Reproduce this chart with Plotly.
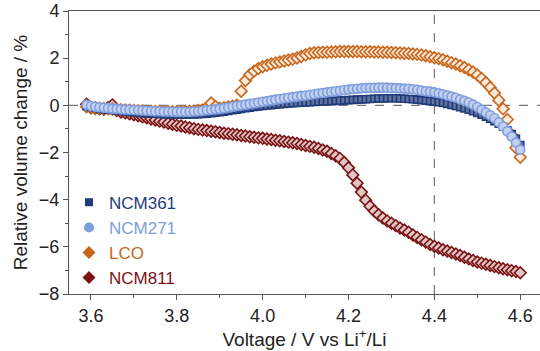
import plotly.graph_objects as go

voltage = [3.59, 3.60, 3.61, 3.62, 3.63, 3.64, 3.65, 3.66, 3.67, 3.68, 3.69,
           3.70, 3.71, 3.72, 3.73, 3.74, 3.75, 3.76, 3.77, 3.78, 3.79,
           3.80, 3.81, 3.82, 3.83, 3.84, 3.85, 3.86, 3.87, 3.88, 3.89,
           3.90, 3.91, 3.92, 3.93, 3.94, 3.95, 3.96, 3.97, 3.98, 3.99,
           4.00, 4.01, 4.02, 4.03, 4.04, 4.05, 4.06, 4.07, 4.08, 4.09,
           4.10, 4.11, 4.12, 4.13, 4.14, 4.15, 4.16, 4.17, 4.18, 4.19,
           4.20, 4.21, 4.22, 4.23, 4.24, 4.25, 4.26, 4.27, 4.28, 4.29,
           4.30, 4.31, 4.32, 4.33, 4.34, 4.35, 4.36, 4.37, 4.38, 4.39,
           4.40, 4.41, 4.42, 4.43, 4.44, 4.45, 4.46, 4.47, 4.48, 4.49,
           4.50, 4.51, 4.52, 4.53, 4.54, 4.55, 4.56, 4.57, 4.58, 4.59,
           4.60]

ncm361 = [-0.04, -0.07, -0.10, -0.13, -0.16, -0.18, -0.20, -0.22, -0.24, -0.26, -0.28,
          -0.30, -0.31, -0.33, -0.34, -0.35, -0.36, -0.37, -0.38, -0.39, -0.39,
          -0.40, -0.40, -0.40, -0.39, -0.39, -0.38, -0.37, -0.35, -0.33, -0.31,
          -0.29, -0.27, -0.24, -0.21, -0.18, -0.15, -0.12, -0.10, -0.07, -0.05,
          -0.03, -0.01, 0.01, 0.03, 0.05, 0.06, 0.08, 0.09, 0.10, 0.11,
          0.12, 0.13, 0.14, 0.15, 0.16, 0.17, 0.18, 0.19, 0.20, 0.21,
          0.22, 0.23, 0.24, 0.25, 0.26, 0.27, 0.28, 0.29, 0.29, 0.30,
          0.30, 0.30, 0.29, 0.28, 0.27, 0.26, 0.24, 0.22, 0.20, 0.18,
          0.16, 0.13, 0.10, 0.06, 0.02, -0.03, -0.08, -0.13, -0.19, -0.25,
          -0.32, -0.40, -0.48, -0.57, -0.67, -0.78, -0.91, -1.06, -1.22, -1.42,
          -1.68]

ncm271 = [0.02, -0.03, -0.06, -0.08, -0.10, -0.12, -0.14, -0.15, -0.17, -0.18, -0.19,
          -0.20, -0.21, -0.22, -0.23, -0.24, -0.25, -0.25, -0.26, -0.26, -0.27,
          -0.27, -0.27, -0.27, -0.27, -0.26, -0.25, -0.23, -0.21, -0.19, -0.17,
          -0.15, -0.12, -0.09, -0.06, -0.03, 0.00, 0.03, 0.06, 0.09, 0.12,
          0.15, 0.18, 0.21, 0.24, 0.27, 0.30, 0.32, 0.35, 0.37, 0.40,
          0.42, 0.45, 0.47, 0.50, 0.52, 0.55, 0.57, 0.60, 0.62, 0.65,
          0.67, 0.69, 0.70, 0.72, 0.73, 0.74, 0.74, 0.75, 0.75, 0.75,
          0.74, 0.73, 0.72, 0.71, 0.70, 0.68, 0.66, 0.63, 0.60, 0.58,
          0.55, 0.51, 0.47, 0.42, 0.37, 0.32, 0.25, 0.19, 0.12, 0.03,
          -0.07, -0.18, -0.30, -0.42, -0.55, -0.72, -0.90, -1.10, -1.32, -1.58,
          -1.88]

lco = [-0.06, -0.08, -0.10, -0.12, -0.14, -0.15, -0.17, -0.18, -0.19, -0.20, -0.21,
       -0.22, -0.23, -0.24, -0.25, -0.25, -0.26, -0.26, -0.27, -0.27, -0.27,
       -0.27, -0.27, -0.26, -0.25, -0.24, -0.22, -0.20, -0.10, 0.10, -0.05,
       -0.12, -0.10, -0.07, -0.04, 0.00, 0.60, 1.05, 1.30, 1.45, 1.56,
       1.64, 1.70, 1.75, 1.80, 1.84, 1.88, 1.92, 1.96, 2.01, 2.07,
       2.14, 2.20, 2.23, 2.24, 2.25, 2.25, 2.26, 2.27, 2.28, 2.28,
       2.28, 2.28, 2.28, 2.27, 2.27, 2.27, 2.26, 2.26, 2.25, 2.25,
       2.24, 2.23, 2.22, 2.21, 2.20, 2.18, 2.16, 2.13, 2.10, 2.06,
       2.02, 1.98, 1.93, 1.87, 1.81, 1.75, 1.68, 1.60, 1.51, 1.41,
       1.29, 1.14, 0.96, 0.76, 0.52, 0.22, -0.15, -0.60, -1.25, -1.80,
       -2.20]

ncm811 = [0.05, -0.10, -0.12, -0.15, -0.17, -0.10, 0.02, -0.22, -0.28, -0.32, -0.36,
          -0.40, -0.44, -0.49, -0.53, -0.58, -0.62, -0.67, -0.71, -0.76, -0.80,
          -0.85, -0.88, -0.92, -0.95, -0.99, -1.02, -1.05, -1.07, -1.10, -1.12,
          -1.15, -1.18, -1.20, -1.23, -1.25, -1.28, -1.30, -1.33, -1.35, -1.38,
          -1.40, -1.43, -1.45, -1.48, -1.50, -1.53, -1.56, -1.59, -1.62, -1.66,
          -1.70, -1.74, -1.78, -1.83, -1.89, -1.95, -2.04, -2.14, -2.25, -2.42,
          -2.65, -2.95, -3.30, -3.68, -4.02, -4.28, -4.48, -4.64, -4.78, -4.90,
          -5.00, -5.10, -5.20, -5.29, -5.38, -5.50, -5.60, -5.70, -5.80, -5.90,
          -5.98, -6.05, -6.12, -6.18, -6.24, -6.30, -6.37, -6.44, -6.51, -6.58,
          -6.64, -6.69, -6.74, -6.79, -6.84, -6.89, -6.93, -6.97, -7.01, -7.05,
          -7.10]

series_names = ["NCM361", "NCM271", "LCO", "NCM811"]
x_ticks = [3.6, 3.8, 4.0, 4.2, 4.4, 4.6]
y_ticks = [-8, -6, -4, -2, 0, 2, 4]

FONT = "Liberation Sans, Arial, sans-serif"
colors = {"NCM361": "#1f3b7a", "NCM271": "#7e9ddc", "LCO": "#c8661c", "NCM811": "#7a1414"}
fills = {"NCM361": "#60739f", "NCM271": "#c3d1f1", "LCO": "#faeadb", "NCM811": "#e2c6c6"}
symbols = {"NCM361": "square", "NCM271": "circle", "LCO": "diamond", "NCM811": "diamond"}
sizes = {"NCM361": 7, "NCM271": 9, "LCO": 9, "NCM811": 9}
data = {"NCM361": ncm361, "NCM271": ncm271, "LCO": lco, "NCM811": ncm811}

fig = go.Figure()

# data traces, drawn so that NCM271 is on top
for name in ["NCM811", "LCO", "NCM361", "NCM271"]:
    fig.add_trace(go.Scatter(
        x=voltage, y=data[name], mode="markers", showlegend=False,
        marker=dict(symbol=symbols[name], size=sizes[name], color=fills[name],
                    line=dict(color=colors[name], width=1.6)),
    ))

# legend entries with solid markers and coloured text
for rank, name in enumerate(series_names):
    fig.add_trace(go.Scatter(
        x=[None], y=[None], mode="markers", legendrank=rank + 1,
        name=f'<span style="color:{colors[name]}">{name}</span>',
        marker=dict(symbol=symbols[name], size=10 if name != "NCM361" else 8,
                    color=colors[name], line=dict(width=0)),
    ))

fig.add_shape(type="line", xref="x", yref="paper", x0=4.4, x1=4.4, y0=0, y1=1,
              line=dict(color="#777777", width=1.2, dash="dash"), layer="below")
fig.add_shape(type="line", xref="paper", yref="y", x0=0, x1=1, y0=0, y1=0,
              line=dict(color="#777777", width=1.2, dash="dash"), layer="below")

fig.update_layout(
    width=540, height=351,
    margin=dict(l=69, r=0, t=11, b=57),
    paper_bgcolor="white", plot_bgcolor="white",
    font=dict(family=FONT, size=18, color="#222222"),
    legend=dict(x=0.0, y=0.386, xanchor="left", yanchor="top",
                bgcolor="rgba(0,0,0,0)", font=dict(size=17),
                itemsizing="trace", tracegroupgap=0),
    xaxis=dict(range=[3.549, 4.646], tickvals=x_ticks,
               ticktext=[f"{v:.1f}" for v in x_ticks],
               showgrid=False, zeroline=False, showline=True, linecolor="#555555",
               linewidth=1, mirror=True, ticks="outside", ticklen=5, tickcolor="#555555",
               minor=dict(dtick=0.1, ticks="outside", ticklen=3, tickcolor="#555555"),
               title=dict(text="Voltage / V vs Li<sup>+</sup>/Li", standoff=4,
                          font=dict(size=19))),
    yaxis=dict(range=[-8, 4], tickvals=y_ticks,
               showgrid=False, zeroline=False, showline=True, linecolor="#555555",
               linewidth=1, ticks="outside", ticklen=5, tickcolor="#555555",
               minor=dict(dtick=1, ticks="outside", ticklen=3, tickcolor="#555555"),
               title=dict(text="Relative volume change / %", standoff=6,
                          font=dict(size=19))),
)

fig.write_html("out.html")
